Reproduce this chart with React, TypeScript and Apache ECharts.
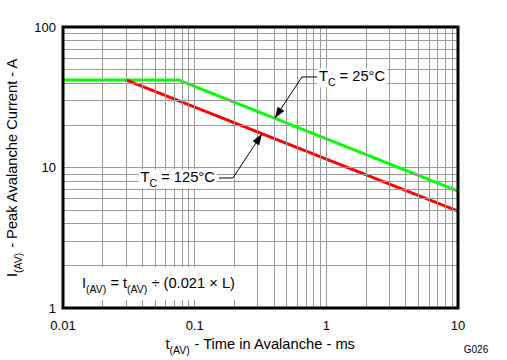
import React, { useEffect, useRef } from "react";
import * as echarts from "echarts";

// ---- data ----
const tc25X = [0.01, 0.075, 10];
const tc25Y = [42, 42, 6.8];
const tc125X = [0.03, 10];
const tc125Y = [42, 4.9];

const xTickLabels = ["0.01", "0.1", "1", "10"];
const yTickLabels = ["1", "10", "100"];
const gridMultipliers = [2, 3, 4, 5, 6, 7, 8, 9];
const xDecades = [0.01, 0.1, 1];
const yDecades = [1, 10];

// annotation anchors in data coordinates
const tc25Tip = [0.407, 22.5];
const tc25Corner = [0.653, 44.1];
const tc125Tip = [0.324, 17.3];
const tc125Corner = [0.195, 8.42];

const FONT = "'Liberation Sans', Arial, Helvetica, sans-serif";
const MAIN = 14.7;
const SUB = 10.5;

const sub = (fs: number, main: number) => ({
  m: { fontSize: main, fontFamily: FONT, color: "#000", verticalAlign: "bottom", padding: [0, 0, 4, 0] },
  s: { fontSize: fs, fontFamily: FONT, color: "#000", verticalAlign: "bottom", padding: [0, 0, 0, 0] },
});

export default function App() {
  const ref = useRef<HTMLDivElement>(null);
  useEffect(() => {
    document.body.style.margin = "0";
    const chart = echarts.init(ref.current!, null, { renderer: "svg" });

    const xGrid: any[] = [];
    xDecades.forEach((d) => gridMultipliers.forEach((m) => xGrid.push({ xAxis: +(d * m).toPrecision(3) })));
    xGrid.push({ xAxis: 0.1 }, { xAxis: 1 });
    const yGrid: any[] = [];
    yDecades.forEach((d) => gridMultipliers.forEach((m) => yGrid.push({ yAxis: +(d * m).toPrecision(3) })));
    yGrid.push({ yAxis: 10 });

    const nameRich = {
      s: { fontSize: MAIN, fontFamily: FONT, color: "#000", verticalAlign: "bottom", padding: [0, 0, 4, 0] },
      t: { fontSize: SUB, fontFamily: FONT, color: "#000", verticalAlign: "bottom" },
    };

    chart.setOption({
      animation: false,
      grid: { left: 63, top: 27, right: 49, bottom: 52, show: false, containLabel: false, outerBoundsMode: "none" },
      xAxis: {
        type: "log",
        logBase: 10,
        min: 0.01,
        max: 10,
        axisLine: { show: false },
        axisTick: { show: false },
        splitLine: { show: false },
        axisLabel: {
          fontFamily: FONT,
          fontSize: 13,
          color: "#000",
          margin: 11,
          formatter: (v: number) => xTickLabels[Math.round(Math.log10(v)) + 2],
        },
        name: "{s|t}{t|(AV)}{s| - Time in Avalanche - ms}",
        nameLocation: "middle",
        nameGap: 26,
        nameTextStyle: { rich: nameRich },
      },
      yAxis: {
        type: "log",
        logBase: 10,
        min: 1,
        max: 100,
        axisLine: { show: false },
        axisTick: { show: false },
        splitLine: { show: false },
        axisLabel: {
          fontFamily: FONT,
          fontSize: 13,
          color: "#000",
          margin: 7,
          formatter: (v: number) => yTickLabels[Math.round(Math.log10(v))],
        },
        name: "{s|I}{t|(AV)}{s| - Peak Avalanche Current - A}",
        nameLocation: "middle",
        nameGap: 40,
        nameTextStyle: { rich: nameRich },
      },
      series: [
        {
          type: "line",
          name: "grid",
          data: [],
          z: 1,
          silent: true,
          markLine: {
            silent: true,
            symbol: ["none", "none"],
            label: { show: false },
            lineStyle: { color: "#999999", width: 1, type: "solid" },
            data: [...xGrid, ...yGrid],
          },
        },
        {
          type: "line",
          name: "TC = 25°C",
          data: tc25X.map((x, i) => [x, tc25Y[i]]),
          showSymbol: false,
          lineStyle: { color: "#00ff00", width: 3 },
          itemStyle: { color: "#00ff00" },
          z: 3,
        },
        {
          type: "line",
          name: "TC = 125°C",
          data: tc125X.map((x, i) => [x, tc125Y[i]]),
          showSymbol: false,
          lineStyle: { color: "#ff0000", width: 3 },
          itemStyle: { color: "#ff0000" },
          z: 3,
        },
      ],
    });

    const px = (p: number[]) => chart.convertToPixel({ gridIndex: 0 }, p) as number[];
    const arrowHead = (tip: number[], from: number[]) => {
      const dx = tip[0] - from[0];
      const dy = tip[1] - from[1];
      const len = Math.hypot(dx, dy);
      const ux = dx / len, uy = dy / len;
      const L = 11, W = 4;
      const bx = tip[0] - ux * L, by = tip[1] - uy * L;
      return [tip, [bx - uy * W, by + ux * W], [bx + uy * W, by - ux * W]];
    };

    const tl = px([0.01, 100]);
    const br = px([10, 1]);
    const t25 = px(tc25Tip);
    const c25 = px(tc25Corner);
    const t125 = px(tc125Tip);
    const c125 = px(tc125Corner);

    const richTC = sub(SUB, MAIN);

    chart.setOption({
      graphic: [
        // formula box
        {
          type: "rect",
          z: 20,
          shape: { x: tl[0] + 1, y: br[1] - 41, width: 183, height: 33 },
          style: { fill: "#fff" },
        },
        {
          type: "text",
          z: 21,
          x: tl[0] + 19,
          y: br[1] - 23,
          style: {
            text: "{m|I}{s|(AV)}{m| = t}{s|(AV)}{m| ÷ (0.021 × L)}",
            rich: richTC,
            verticalAlign: "middle",
            align: "left",
          },
        },
        // Tc = 25
        {
          type: "polyline",
          z: 22,
          shape: { points: [t25, c25, [c25[0] + 15, c25[1]]] },
          style: { stroke: "#000", lineWidth: 1, fill: null },
        },
        {
          type: "polygon",
          z: 22,
          shape: { points: arrowHead(t25, c25) },
          style: { fill: "#000" },
        },
        {
          type: "text",
          z: 21,
          x: c25[0] + 15,
          y: c25[1] + 1,
          style: {
            text: "{m|T}{s|C}{m| = 25°C}",
            rich: richTC,
            verticalAlign: "middle",
            align: "left",
            backgroundColor: "#fff",
            padding: [0, 2, 0, 2],
          },
        },
        // Tc = 125
        {
          type: "polyline",
          z: 22,
          shape: { points: [t125, c125, [c125[0] - 14, c125[1]]] },
          style: { stroke: "#000", lineWidth: 1, fill: null },
        },
        {
          type: "polygon",
          z: 22,
          shape: { points: arrowHead(t125, c125) },
          style: { fill: "#000" },
        },
        {
          type: "text",
          z: 21,
          x: c125[0] - 16,
          y: c125[1] + 1,
          style: {
            text: "{m|T}{s|C}{m| = 125°C}",
            rich: richTC,
            verticalAlign: "middle",
            align: "right",
            backgroundColor: "#fff",
            padding: [0, 2, 0, 2],
          },
        },
        // frame
        {
          type: "rect",
          z: 30,
          shape: { x: tl[0], y: tl[1], width: br[0] - tl[0], height: br[1] - tl[1] },
          style: { fill: null, stroke: "#000", lineWidth: 3 },
        },
        {
          type: "text",
          z: 30,
          x: 476,
          y: 349,
          style: {
            text: "G026",
            fontSize: 10,
            fontFamily: FONT,
            fill: "#000",
            align: "center",
            verticalAlign: "middle",
          },
        },
      ],
    });

    return () => chart.dispose();
  }, []);

  return (
    <div
      ref={ref}
      style={{ position: "fixed", left: 0, top: 0, width: 507, height: 360, background: "#fff" }}
    />
  );
}
